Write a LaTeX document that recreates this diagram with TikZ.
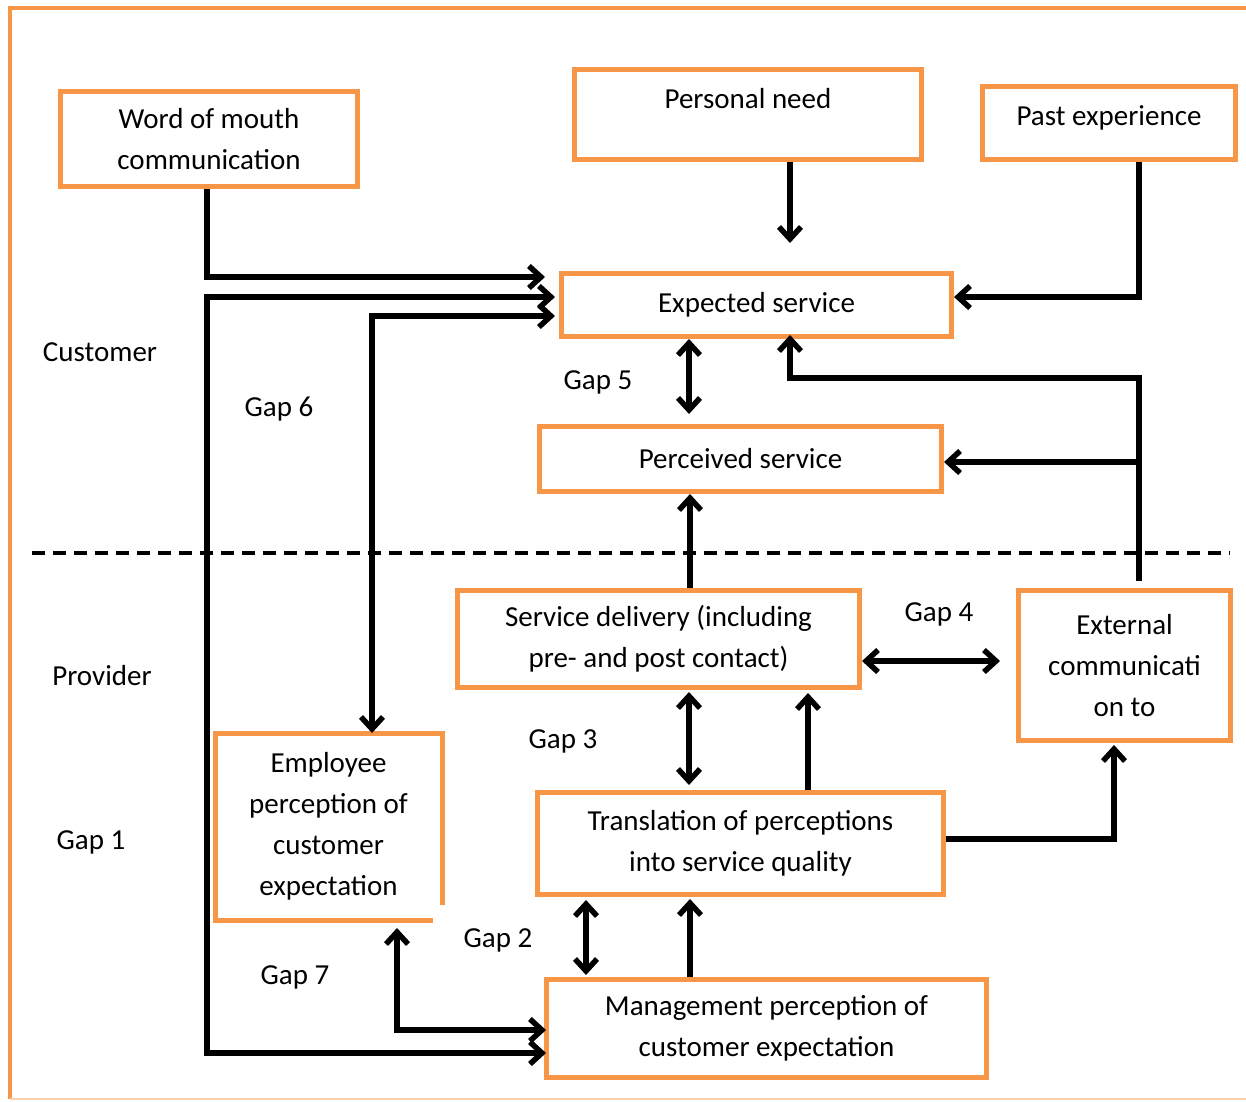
\documentclass[tikz,border=0pt]{standalone}
\usepackage{fontspec}
\setmainfont{Carlito}
\usetikzlibrary{arrows.meta,calc}
\definecolor{accent}{HTML}{F79646}

\begin{document}
\begin{tikzpicture}[x=1pt,y=-1pt,
  box/.style={draw=accent, line width=5pt, inner sep=0pt, align=center,
    font=\fontsize{29}{41}\selectfont},
  lbl/.style={inner sep=0pt, font=\fontsize{29}{41}\selectfont},
  link/.style={line width=5.5pt, line join=miter},
  arr/.style={-{Straight Barb[length=12pt,width=22pt]}},
  dbl/.style={{Straight Barb[length=12pt,width=22pt]}-{Straight Barb[length=12pt,width=22pt]}},
]
\useasboundingbox (0,0) rectangle (1246,1101);

% outer frame
\draw[accent, line width=4pt] (1260,8) -- (10,8) -- (10,1099);
\draw[accent!45, line width=2pt] (10,1099) -- (1246,1099);

% customer / provider divider
\draw[line width=3.5pt, dash pattern=on 13pt off 8pt] (32,553) -- (1230,553);

% boxes
\node[box, minimum width=297, minimum height=95] (wom) at (209,139) {Word of mouth\\communication};
\node[box, minimum width=347, minimum height=90, text depth=33pt] (need) at (748,114.5) {Personal need};
\node[box, minimum width=253, minimum height=73, text depth=15pt] (past) at (1109,123) {Past experience};
\node[box, minimum width=390, minimum height=63] (exp) at (756.5,305) {Expected service};
\node[box, minimum width=402, minimum height=65] (perc) at (740.5,459) {Perceived service};
\node[box, minimum width=402, minimum height=97] (svc) at (658.5,639) {Service delivery (including\\pre- and post contact)};
\node[box, minimum width=212, minimum height=150] (ext) at (1124.5,665.5) {External\\communicati\\on to};
\node[box, draw=none, minimum width=222, minimum height=182] (emp) at (328.5,826.5) {Employee\\perception of\\customer\\expectation};
\node[box, minimum width=406, minimum height=102] (trans) at (740.5,843.5) {Translation of perceptions\\into service quality};
\node[box, minimum width=440, minimum height=98] (mgmt) at (766.5,1028.5) {Management perception of\\customer expectation};

% employee box outline, open at its lower right corner
\draw[accent, line width=5pt]
  ([yshift=15pt]emp.south east) -- (emp.north east) -- (emp.north west)
  -- (emp.south west) -- ([xshift=-9pt]emp.south east);

% side labels
\node[lbl] (cust) at (100,352) {Customer};
\node[lbl] (prov) at (102,676) {Provider};
\node[lbl] (g1) at (91,842) {Gap 1};
\node[lbl] (g6) at (279,409) {Gap 6};
\node[lbl] (g5) at (598,382) {Gap 5};
\node[lbl] (g4) at (939,614) {Gap 4};
\node[lbl] (g3) at (563,741) {Gap 3};
\node[lbl] (g2) at (498,940) {Gap 2};
\node[lbl] (g7) at (295,977) {Gap 7};

% free ends and bends
\coordinate (needEnd) at (790,243);
\coordinate (extBend) at (790,378);
\coordinate (perBranch) at (1139,462);
\coordinate (g4End) at (1000,661);

% customer side
\draw[link,arr] ($(wom.south)+(-2,0)$) |- ($(exp.west)+(-14,-28)$);
\draw[link,dbl] ($(exp.west)+(-4,-8)$) -| (207,1053) -- ($(mgmt.west)+(2,24.5)$);
\draw[link,dbl] ($(exp.west)+(-4,11)$) -| ($(emp.north)+(43.5,0)$);
\draw[link,dbl] ($(emp.south)+(68.5,8)$) |- ($(mgmt.west)+(2,1.5)$);
\draw[link,arr] ($(need.south)+(42,0)$) -- (needEnd);
\draw[link,arr] ($(past.south)+(30,0)$) |- ($(exp.east)+(0,-8)$);
\draw[link,dbl] ($(exp.south)+(-67.5,0)$) -- ($(perc.north)+(-51.5,-10)$);

% external communication feedback
\draw[link,arr] ($(ext.north)+(14.5,-7)$) |- (extBend) -- ($(exp.south)+(33.5,-4)$);
\draw[link,arr] (perBranch) -- ($(perc.east)+(0,3)$);

% provider side
\draw[link,arr] ($(svc.north)+(31.5,0)$) -- ($(perc.south)+(-50.5,0)$);
\draw[link,dbl] ($(svc.east)+(0,22)$) -- (g4End);
\draw[link,dbl] ($(svc.south)+(30.5,2)$) -- ($(trans.north)+(-51.5,-5)$);
\draw[link,arr] ($(trans.north)+(67.5,0)$) -- ($(svc.south)+(149.5,3)$);
\draw[link,arr] ($(trans.east)+(0,-4.5)$) -| ($(ext.south)+(-10.5,2)$);
\draw[link,dbl] ($(trans.south)+(-154.5,3)$) -- ($(mgmt.north)+(-180.5,-2)$);
\draw[link,arr] ($(mgmt.north)+(-76.5,0)$) -- ($(trans.south)+(-50.5,2)$);
\end{tikzpicture}
\end{document}
